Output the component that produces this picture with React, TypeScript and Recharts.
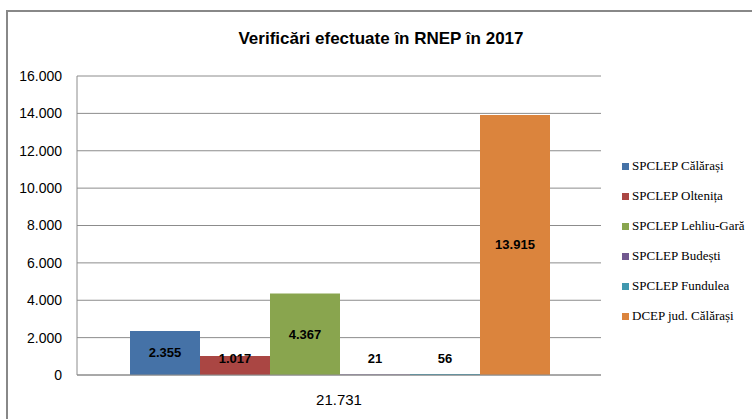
import React from "react";
import { BarChart, Bar, XAxis, YAxis, CartesianGrid, Legend, LabelList } from "recharts";

const category = "21.731";
const seriesNames = [
  "SPCLEP Călărași",
  "SPCLEP Oltenița",
  "SPCLEP Lehliu-Gară",
  "SPCLEP Budești",
  "SPCLEP Fundulea",
  "DCEP jud. Călărași",
];
const seriesValues = [2355, 1017, 4367, 21, 56, 13915];
const seriesColors = ["#4572A7", "#AA4643", "#89A54E", "#71588F", "#4198AF", "#DB843D"];
const yTicks = [0, 2000, 4000, 6000, 8000, 10000, 12000, 14000, 16000];
const title = "Verificări efectuate în RNEP în 2017";

const keys = seriesNames.map((_, i) => `s${i}`);
const row: Record<string, string | number> = { name: category };
keys.forEach((k, i) => {
  row[k] = seriesValues[i];
});
const data = [row];

const fmt = (v: number) => v.toLocaleString("de-DE");

const numFont = "'Liberation Sans', Arial, sans-serif";

const ValueLabel = (props: any) => {
  const { x, y, width, height, value } = props;
  const center = y + height / 2;
  const bottomY = y + height;
  const cy = Math.min(center, bottomY - 17);
  return (
    <text
      x={x + width / 2}
      y={cy}
      textAnchor="middle"
      dominantBaseline="central"
      fontFamily={numFont}
      fontWeight="bold"
      fontSize={13}
      fill="#000"
    >
      {fmt(Number(value))}
    </text>
  );
};

const LegendContent = (props: any) => {
  const payload = [...(props.payload || [])].sort(
    (a: any, b: any) => seriesNames.indexOf(a.value) - seriesNames.indexOf(b.value)
  );
  return (
    <div>
      {payload.map((p: any, i: number) => (
        <div
          key={i}
          style={{
            display: "flex",
            alignItems: "center",
            height: 30,
            fontFamily: "'Liberation Serif', 'Times New Roman', serif",
            fontSize: 13,
            color: "#000",
            whiteSpace: "nowrap",
          }}
        >
          <span
            style={{
              display: "inline-block",
              width: 7,
              height: 7,
              background: p.color,
              marginRight: 3,
            }}
          />
          {p.value}
        </div>
      ))}
    </div>
  );
};

export default function App() {
  return (
    <div
      style={{
        position: "absolute",
        left: 0,
        top: 0,
        width: 752,
        height: 419,
        overflow: "hidden",
        background: "#fff",
      }}
    >
      <div
        style={{
          position: "absolute",
          left: 6,
          top: 10,
          width: 800,
          height: 500,
          border: "2px solid #888",
          boxSizing: "border-box",
        }}
      />
      <div
        style={{
          position: "absolute",
          left: 0,
          width: 762,
          top: 29,
          textAlign: "center",
          fontFamily: "'Liberation Sans', sans-serif",
          fontWeight: "bold",
          fontSize: 17,
          color: "#000",
        }}
      >
        {title}
      </div>
      <div style={{ position: "absolute", left: 0, top: 0 }}>
        <BarChart
          width={752}
          height={419}
          data={data}
          margin={{ top: 76, right: 21, bottom: 14, left: 0 }}
          barCategoryGap={53}
          barGap={0}
        >
          <CartesianGrid vertical={false} stroke="#8c8c8c" strokeWidth={1} />
          <XAxis
            dataKey="name"
            axisLine={{ stroke: "#8c8c8c" }}
            tickLine={false}
            tickMargin={13}
            height={30}
            tick={{ fontFamily: numFont, fontSize: 15, fill: "#000" }}
          />
          <YAxis
            width={77}
            domain={[0, 16000]}
            ticks={yTicks}
            interval={0}
            tickFormatter={fmt}
            axisLine={{ stroke: "#8c8c8c" }}
            tickLine={false}
            tickMargin={9}
            tick={{ fontFamily: numFont, fontSize: 14, fill: "#000" }}
          />
          <Legend
            layout="horizontal"
            align="right"
            verticalAlign="middle"
            content={<LegendContent />}
            wrapperStyle={{ position: "absolute", left: 622, top: 151, width: 130 }}
          />
          {keys.map((k, i) => (
            <Bar
              key={k}
              dataKey={k}
              name={seriesNames[i]}
              fill={seriesColors[i]}
              isAnimationActive={false}
            >
              <LabelList dataKey={k} content={<ValueLabel />} />
            </Bar>
          ))}
        </BarChart>
      </div>
    </div>
  );
}
